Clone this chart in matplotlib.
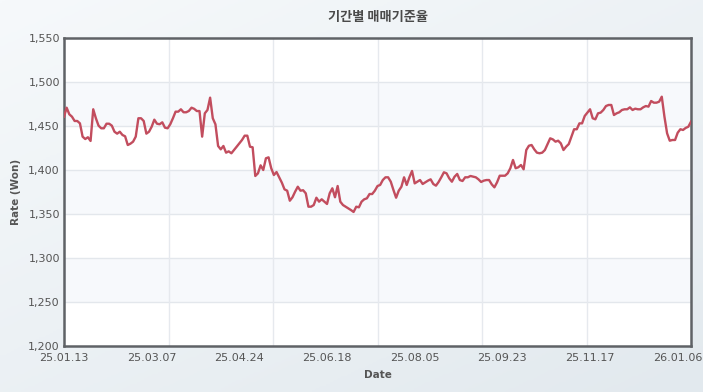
import numpy as np
import matplotlib
matplotlib.use('Agg')
from matplotlib import pyplot as plt
from matplotlib.ticker import StrMethodFormatter

# daily base rate (KRW)
rates = [
    1460.6, 1470.8, 1463.3, 1460.6, 1455.7, 1455.7, 1453.0, 1437.9, 1435.2, 1437.2,
    1433.0, 1469.0, 1458.8, 1450.4, 1447.4, 1447.4, 1452.6, 1452.6, 1450.4, 1443.5,
    1441.3, 1443.5, 1439.8, 1438.3, 1428.4, 1429.9, 1432.2, 1437.9, 1458.8, 1458.8,
    1455.7, 1441.3, 1443.5, 1449.2, 1457.2, 1452.6, 1452.0, 1454.2, 1448.1, 1447.4,
    1452.0, 1458.8, 1466.3, 1466.3, 1469.0, 1465.6, 1465.6, 1467.1, 1470.8, 1469.5,
    1467.0, 1467.0, 1437.9, 1464.4, 1468.2, 1482.2, 1458.8, 1451.9, 1427.3, 1423.5,
    1427.3, 1419.7, 1421.2, 1419.0, 1422.7, 1426.5, 1430.3, 1434.1, 1439.0, 1439.0,
    1426.5, 1425.8, 1393.2, 1396.2, 1405.3, 1400.0, 1413.3, 1414.4, 1402.0, 1394.3,
    1397.7, 1391.7, 1385.6, 1378.0, 1376.5, 1365.1, 1369.0, 1375.4, 1381.0, 1376.5,
    1377.0, 1373.5, 1358.3, 1358.3, 1360.2, 1368.5, 1364.0, 1366.7, 1364.0, 1361.4,
    1373.5, 1379.2, 1369.0, 1381.8, 1364.0, 1360.2, 1358.3, 1356.4, 1354.5, 1352.3,
    1358.3, 1357.6, 1364.0, 1366.7, 1367.8, 1372.7, 1372.7, 1376.5, 1381.8, 1383.0,
    1388.6, 1391.7, 1391.7, 1386.7, 1377.3, 1368.5, 1376.5, 1381.0, 1391.7, 1383.0,
    1391.7, 1398.9, 1384.8, 1386.7, 1388.6, 1384.1, 1386.0, 1387.9, 1389.4, 1384.1,
    1382.2, 1386.4, 1391.7, 1397.4, 1396.2, 1390.5, 1386.7, 1392.4, 1395.5, 1388.6,
    1387.5, 1391.7, 1391.7, 1393.2, 1392.4, 1391.7, 1389.4, 1386.4, 1387.9, 1388.6,
    1388.6, 1383.7, 1380.3, 1386.0, 1393.5, 1393.5, 1393.5, 1396.2, 1402.0, 1411.4,
    1402.0, 1403.1, 1405.7, 1400.8, 1422.7, 1427.6, 1428.4, 1423.5, 1419.7, 1419.0,
    1419.7, 1422.7, 1429.5, 1436.0, 1434.8, 1432.2, 1433.3, 1430.3, 1422.7, 1426.5,
    1429.5, 1437.9, 1446.3, 1446.3, 1453.0, 1453.0, 1461.4, 1465.2, 1469.0, 1458.8,
    1457.6, 1464.4, 1465.2, 1468.2, 1472.7, 1473.9, 1473.9, 1462.5, 1464.4, 1465.6,
    1468.2, 1469.0, 1469.0, 1471.2, 1468.2, 1469.7, 1469.0, 1469.0, 1471.2, 1472.7,
    1472.0, 1478.4, 1476.5, 1476.5, 1477.6, 1483.3, 1460.6, 1441.7, 1433.3, 1434.1,
    1434.1, 1442.4, 1446.3, 1445.5, 1447.8, 1449.2, 1454.9,
]
date_labels = ['25.01.13', '25.03.07', '25.04.24', '25.06.18',
               '25.08.05', '25.09.23', '25.11.17', '26.01.06']
label_step = 33

y_min, y_max, y_step = 1200, 1550, 50

title = '기간별 매매기준율'

fig = plt.figure(figsize=(7.03, 3.92), dpi=100)

# soft gradient background
bg = fig.add_axes([0, 0, 1, 1], zorder=-10)
gx, gy = np.meshgrid(np.linspace(0, 1, 200), np.linspace(0, 1, 200))
grad = 0.55 * gy + 0.45 * gx
bg.imshow(grad, cmap=matplotlib.colors.LinearSegmentedColormap.from_list(
    'bg', ['#f6f9fb', '#e2e9ee']), aspect='auto', extent=[0, 1, 0, 1], origin='upper')
bg.axis('off')

ax = fig.add_axes([64 / 703, 1 - 346 / 392, 627 / 703, 308 / 392])
ax.set_facecolor('white')

n = len(rates)
x = np.arange(n)

# alternating bands
for lo in range(y_min + y_step, y_max, 2 * y_step):
    ax.axhspan(lo, lo + y_step, color='#f7f9fc', zorder=0, lw=0)

for yv in range(y_min + y_step, y_max, y_step):
    ax.axhline(yv, color='#e3e7ec', lw=1, zorder=1)
for xv in np.linspace(0, n - 1, 7)[1:-1]:
    ax.axvline(xv, color='#e6e9ee', lw=1, zorder=1)

ax.plot(x, rates, color='#c24d5e', lw=1.7, zorder=3, solid_joinstyle='round')

ax.set_xlim(0, n - 1)
ax.set_ylim(y_min, y_max)
ax.set_yticks(range(y_min, y_max + 1, y_step))
ax.yaxis.set_major_formatter(StrMethodFormatter('{x:,.0f}'))
ax.set_xticks([i * label_step for i in range(len(date_labels))])
ax.set_xticklabels(date_labels)

ax.tick_params(length=0, labelsize=8, colors='#555555')
ax.tick_params(axis='y', pad=3)
ax.tick_params(axis='x', pad=5)
for s in ax.spines.values():
    s.set_color('#5f6266')
    s.set_linewidth(1.8)

ax.set_xlabel('Date', fontsize=7.5, fontweight='bold', color='#555555', labelpad=5)
ax.set_ylabel('Rate (Won)', fontsize=7.5, fontweight='bold', color='#555555', labelpad=5)

fig.text(378 / 703, 1 - 17 / 392, title, ha='center', va='center',
         fontsize=9.5, fontweight='bold', color='#4a4a4a',
         family=['Noto Sans CJK KR', 'DejaVu Sans'])

fig.savefig('out.png', dpi=100)
